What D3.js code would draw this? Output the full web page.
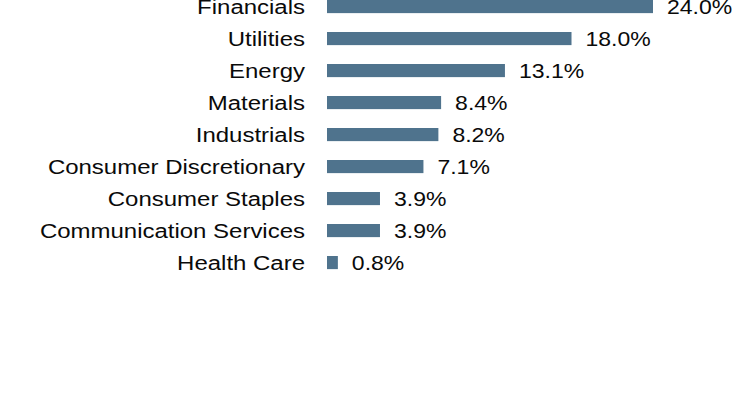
<!DOCTYPE html>
<html>
<head>
<meta charset="utf-8">
<script src="https://cdn.jsdelivr.net/npm/d3@7"></script>
<style>
  html, body { margin: 0; padding: 0; background: #fff; }
  svg { display: block; }
  text { font-family: Arial, "Liberation Sans", sans-serif; font-size: 19.5px; fill: #0a0a0a; }
</style>
</head>
<body>
<div id="chart"></div>
<script>
const SECTORS = ["Financials", "Utilities", "Energy", "Materials", "Industrials",
  "Consumer Discretionary", "Consumer Staples", "Communication Services", "Health Care"];
const WEIGHTS = [24.0, 18.0, 13.1, 8.4, 8.2, 7.1, 3.9, 3.9, 0.8];

const WIDTH = 744;
const HEIGHT = 408;
const BAR_LEFT = 327;
const BAR_RIGHT = 653;
const ROW_STEP = 32;
const TOP = -9.44;
const LABEL_RIGHT = 305;
const VALUE_GAP = 14;
const LABEL_STRETCH = 1.23;
const VALUE_STRETCH = 1.18;
const BAR_COLOR = "#4f738d";

var svg = d3.select("#chart")
  .append("svg")
  .attr("width", WIDTH)
  .attr("height", HEIGHT);

var xScale = d3.scaleLinear()
  .domain([0, 24])
  .range([BAR_LEFT, BAR_RIGHT]);

var yScale = d3.scaleBand()
  .domain(SECTORS)
  .range([TOP, TOP + ROW_STEP * SECTORS.length])
  .paddingInner(0.59)
  .paddingOuter(0.295);

var rows = SECTORS.map((s, i) => ({ sector: s, weight: WEIGHTS[i] }));
var midY = d => yScale(d.sector) + yScale.bandwidth() / 2;

// bars
svg.append("g")
  .selectAll("rect")
  .data(rows)
  .enter()
  .append("rect")
  .attr("x", xScale(0))
  .attr("y", d => yScale(d.sector))
  .attr("width", d => xScale(d.weight) - xScale(0))
  .attr("height", yScale.bandwidth())
  .attr("fill", BAR_COLOR);

// category labels (the source font is drawn a bit wide)
svg.append("g")
  .selectAll("text")
  .data(rows)
  .enter()
  .append("text")
  .attr("transform", d => `translate(${LABEL_RIGHT}, ${midY(d)}) scale(${LABEL_STRETCH}, 1)`)
  .attr("text-anchor", "end")
  .attr("dy", "0.4em")
  .text(d => d.sector);

// value labels
svg.append("g")
  .selectAll("text")
  .data(rows)
  .enter()
  .append("text")
  .attr("transform", d => `translate(${xScale(d.weight) + VALUE_GAP}, ${midY(d)}) scale(${VALUE_STRETCH}, 1)`)
  .attr("dy", "0.4em")
  .text(d => d.weight.toFixed(1) + "%");
</script>
</body>
</html>
